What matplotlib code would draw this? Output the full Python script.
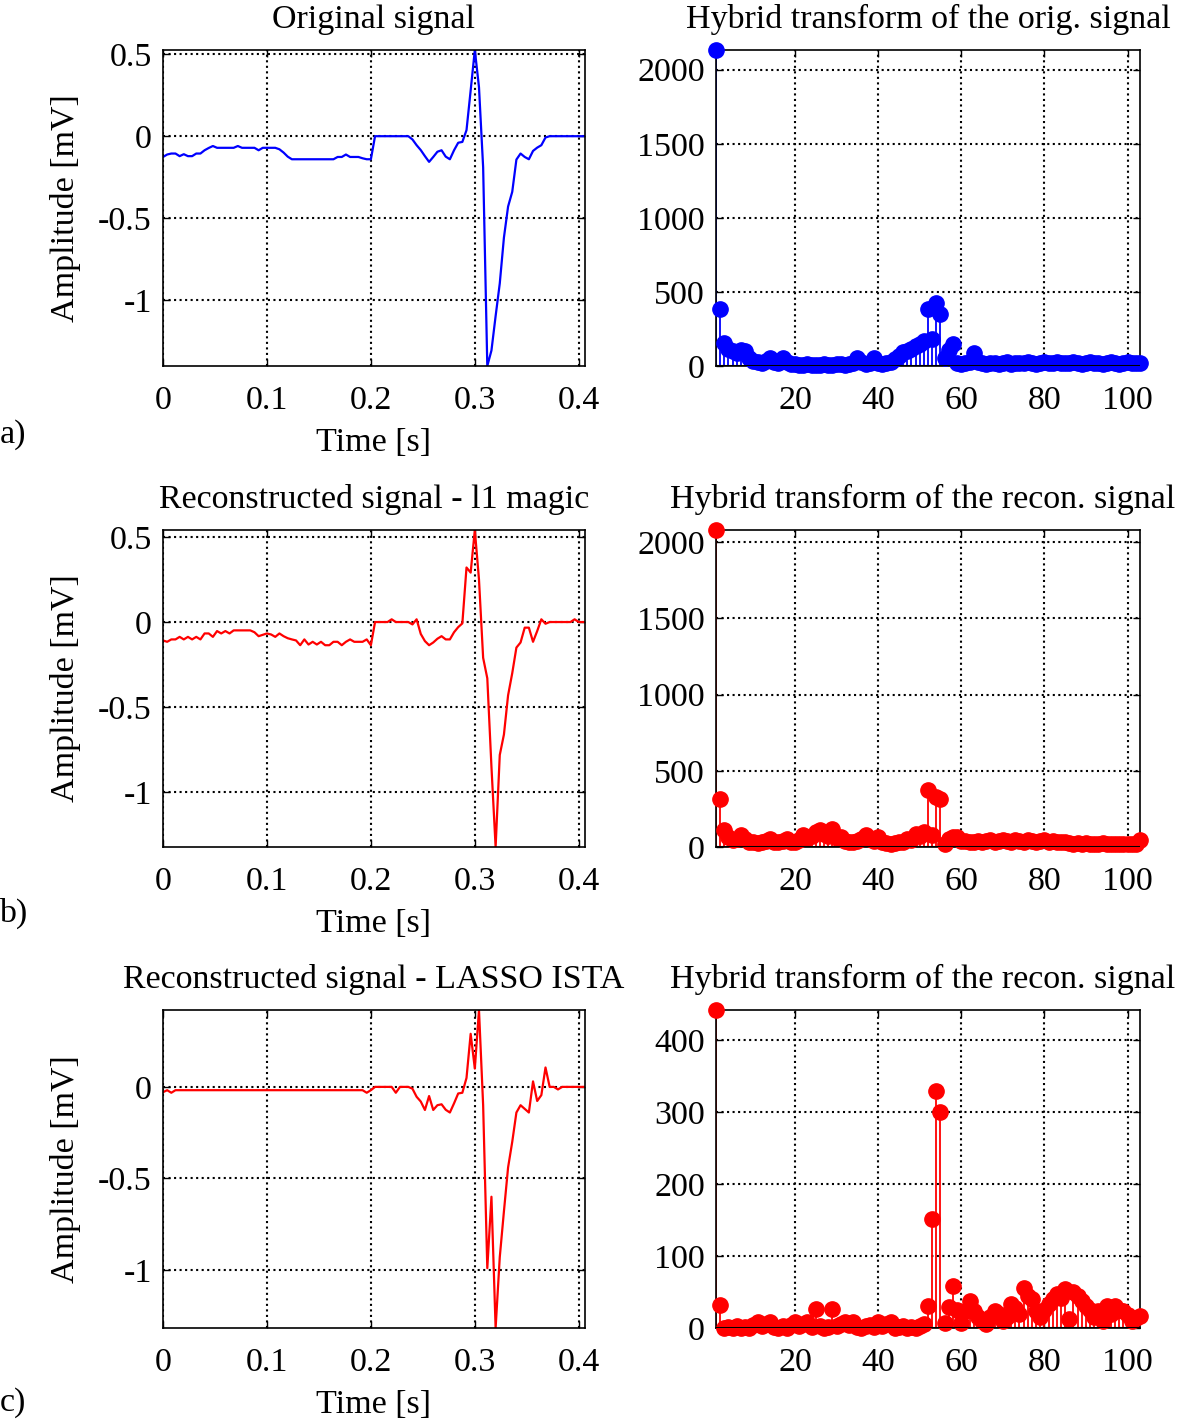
import numpy as np
import matplotlib
matplotlib.use("Agg")
import matplotlib.pyplot as plt

plt.rcParams['font.family'] = ['Liberation Serif', 'DejaVu Serif']
plt.rcParams['font.size'] = 24.5
plt.rcParams['axes.unicode_minus'] = False

fs = 250.0

# original ECG segment [mV]
sig_orig = [-0.127, -0.112, -0.106, -0.106, -0.122, -0.110, -0.122, -0.122, -0.106, -0.106,
            -0.086, -0.072, -0.060, -0.071, -0.071, -0.071, -0.071, -0.071, -0.060, -0.071,
            -0.071, -0.071, -0.071, -0.086, -0.071, -0.071, -0.071, -0.071, -0.080, -0.100,
            -0.125, -0.141, -0.141, -0.141, -0.141, -0.141, -0.141, -0.141, -0.141, -0.141,
            -0.141, -0.141, -0.127, -0.127, -0.112, -0.127, -0.127, -0.127, -0.135, -0.141,
            -0.141, 0.0, 0.0, 0.0, 0.0, 0.0, 0.0, 0.0, 0.0, 0.0,
            -0.020, -0.055, -0.085, -0.122, -0.157, -0.127, -0.095, -0.086, -0.125, -0.141,
            -0.086, -0.040, -0.035, 0.037, 0.280, 0.527, 0.300, -0.190, -1.405, -1.310,
            -1.100, -0.900, -0.620, -0.430, -0.340, -0.143, -0.106, -0.127, -0.141, -0.090,
            -0.070, -0.055, -0.008, 0.0, 0.0, 0.0, 0.0, 0.0, 0.0, 0.0,
            0.0, 0.0, 0.0]

# reconstruction - l1 magic
sig_l1 = [-0.108, -0.116, -0.102, -0.102, -0.087, -0.102, -0.087, -0.102, -0.087, -0.102,
          -0.067, -0.067, -0.087, -0.053, -0.067, -0.053, -0.067, -0.049, -0.049, -0.049,
          -0.049, -0.049, -0.060, -0.083, -0.075, -0.067, -0.073, -0.087, -0.067, -0.083,
          -0.095, -0.102, -0.108, -0.136, -0.102, -0.132, -0.116, -0.132, -0.116, -0.136,
          -0.136, -0.116, -0.116, -0.136, -0.116, -0.102, -0.116, -0.116, -0.116, -0.102,
          -0.136, 0.0, 0.0, 0.0, 0.0, 0.016, 0.0, 0.0, 0.0, 0.0,
          -0.014, 0.016, -0.070, -0.112, -0.136, -0.120, -0.098, -0.083, -0.102, -0.102,
          -0.060, -0.030, -0.008, 0.320, 0.290, 0.540, 0.250, -0.210, -0.330, -0.850,
          -1.320, -0.780, -0.660, -0.430, -0.300, -0.150, -0.120, -0.033, -0.033, -0.116,
          -0.053, 0.016, -0.010, 0.0, 0.0, 0.0, 0.0, 0.0, 0.0, 0.016,
          0.0, 0.0, 0.0]

# reconstruction - LASSO ISTA
sig_lasso = [-0.029, -0.018, -0.032, -0.018, -0.018, -0.018, -0.018, -0.018, -0.018, -0.018,
             -0.018, -0.018, -0.018, -0.018, -0.018, -0.018, -0.018, -0.018, -0.018, -0.018,
             -0.018, -0.018, -0.018, -0.018, -0.018, -0.018, -0.018, -0.018, -0.018, -0.018,
             -0.018, -0.018, -0.018, -0.018, -0.018, -0.018, -0.018, -0.018, -0.018, -0.018,
             -0.018, -0.018, -0.018, -0.018, -0.018, -0.018, -0.018, -0.018, -0.018, -0.032,
             -0.018, 0.0, 0.0, 0.0, 0.0, 0.0, -0.032, 0.0, 0.0, 0.0,
             -0.010, -0.054, -0.080, -0.126, -0.050, -0.126, -0.100, -0.095, -0.125, -0.140,
             -0.090, -0.036, -0.032, 0.049, 0.290, 0.100, 0.420, -0.100, -0.990, -0.600,
             -1.317, -0.930, -0.680, -0.440, -0.300, -0.140, -0.100, -0.120, -0.140, 0.030,
             -0.077, -0.045, 0.106, 0.0, 0.0, -0.014, 0.0, 0.0, 0.0, 0.0,
             0.0, 0.0, 0.0]

# hybrid transform coefficients (index 1..103)
hyb_orig = [2133, 382, 157, 112, 100, 90, 105, 100, 56, 34,
            28, 20, 34, 56, 30, 22, 56, 30, 15, 12,
            10, 8, 12, 10, 8, 10, 12, 8, 10, 12,
            15, 10, 12, 20, 56, 25, 15, 20, 56, 20,
            15, 20, 30, 45, 70, 95, 100, 112, 135, 150,
            168, 382, 180, 427, 349, 56, 105, 146, 20, 15,
            18, 30, 85, 25, 20, 15, 22, 18, 12, 20,
            25, 15, 20, 22, 18, 25, 20, 15, 22, 25,
            20, 18, 25, 22, 20, 18, 25, 20, 15, 22,
            25, 18, 20, 15, 22, 25, 20, 15, 18, 25,
            20, 22, 18]

hyb_l1 = [2080, 318, 110, 66, 44, 55, 77, 55, 33, 33,
          25, 30, 40, 55, 35, 30, 40, 55, 30, 35,
          45, 81, 60, 70, 98, 110, 85, 75, 120, 60,
          66, 40, 35, 30, 40, 55, 77, 50, 40, 66,
          30, 25, 20, 25, 30, 35, 55, 45, 88, 70,
          98, 372, 77, 328, 318, 20, 55, 66, 66, 40,
          40, 35, 30, 40, 35, 40, 45, 35, 40, 45,
          40, 35, 45, 40, 35, 45, 40, 35, 40, 45,
          35, 40, 35, 30, 35, 28, 22, 28, 22, 28,
          22, 18, 22, 28, 22, 18, 22, 18, 22, 18,
          22, 18, 44]

hyb_lasso = [442, 32, 0, 2, 0, 3, 0, 2, 0, 4,
             9, 3, 5, 9, 2, 0, 3, 0, 4, 9,
             3, 5, 9, 2, 27, 3, 0, 2, 27, 3,
             5, 9, 4, 9, 2, 0, 3, 4, 2, 9,
             3, 5, 9, 0, 2, 3, 0, 2, 0, 3,
             5, 31, 152, 330, 300, 7, 29, 58, 25, 7,
             23, 37, 23, 15, 10, 5, 15, 23, 20, 10,
             15, 33, 28, 20, 56, 45, 40, 23, 15, 25,
             33, 40, 47, 42, 54, 12, 50, 45, 37, 30,
             25, 15, 23, 10, 30, 20, 30, 25, 23, 18,
             10, 14, 16]

left_titles = ["Original signal", "Reconstructed signal - l1 magic",
               "Reconstructed signal - LASSO ISTA"]
right_titles = ["Hybrid transform of the orig. signal",
                "Hybrid transform of the recon. signal",
                "Hybrid transform of the recon. signal"]
panel_tags = ["a)", "b)", "c)"]
signals = [sig_orig, sig_l1, sig_lasso]
coefs = [hyb_orig, hyb_l1, hyb_lasso]
colors = ["#0000ff", "#ff0000", "#ff0000"]
sig_yticks = [[0.5, 0, -0.5, -1], [0.5, 0, -0.5, -1], [0, -0.5, -1]]
sig_yticklabels = [["0.5", "0", "-0.5", "-1"], ["0.5", "0", "-0.5", "-1"], ["0", "-0.5", "-1"]]
coef_yticks = [[0, 500, 1000, 1500, 2000], [0, 500, 1000, 1500, 2000], [0, 100, 200, 300, 400]]

FS = 24.5
W, H = 1181, 1424
fig = plt.figure(figsize=(W / 100, H / 100), dpi=100)

rows = [(50, 366), (530, 847), (1010, 1328)]
tag_y = [435, 913, 1403]


def px_axes(x0, x1, y0, y1):
    return fig.add_axes([x0 / W, 1 - y1 / H, (x1 - x0) / W, (y1 - y0) / H])


def style(ax):
    ax.grid(True, linestyle=':', color='k', linewidth=1.5)
    ax.tick_params(direction='in', top=True, right=True, length=5, width=1,
                   labelsize=FS)
    ax.tick_params(axis='x', pad=14)
    ax.tick_params(axis='y', pad=8)
    for s in ax.spines.values():
        s.set_linewidth(1.2)


for i in range(3):
    y0, y1 = rows[i]
    sig = np.array(signals[i])
    t = np.arange(len(sig)) / fs

    ax = px_axes(163, 585, y0, y1)
    ax.plot(t, sig, color=colors[i], linewidth=1.6)
    ax.set_xlim(0, 0.406)
    ax.set_ylim(sig.min(), sig.max())
    ax.set_xticks([0, 0.1, 0.2, 0.3, 0.4])
    ax.set_xticklabels(["0", "0.1", "0.2", "0.3", "0.4"])
    ax.set_yticks(sig_yticks[i])
    ax.set_yticklabels(sig_yticklabels[i])
    ax.set_title(left_titles[i], fontsize=FS, pad=16)
    ax.set_xlabel("Time [s]", fontsize=FS, labelpad=8)
    ax.set_ylabel("Amplitude [mV]", fontsize=FS, labelpad=12)
    style(ax)

    c = np.array(coefs[i], dtype=float)
    k = np.arange(1, len(c) + 1)
    ax2 = px_axes(716, 1140, y0, y1)
    ml, sl, bl = ax2.stem(k, c, linefmt='-', markerfmt='o', basefmt='k-')
    plt.setp(sl, color=colors[i], linewidth=1.3)
    plt.setp(ml, color=colors[i], markersize=11, clip_on=False, zorder=4)
    plt.setp(bl, color='k', linewidth=2.2, zorder=5)
    ax2.set_xlim(1, len(c))
    ax2.set_ylim(0, c.max())
    ax2.set_xticks([20, 40, 60, 80, 100])
    ax2.set_yticks(coef_yticks[i])
    ttl = ax2.set_title(right_titles[i], fontsize=FS, pad=16)
    if i > 0:
        ttl.set_x(0.488)
    style(ax2)

    fig.text(13 / W, 1 - tag_y[i] / H, panel_tags[i], ha='center', va='center', fontsize=FS)

fig.savefig("out.png", dpi=100)
